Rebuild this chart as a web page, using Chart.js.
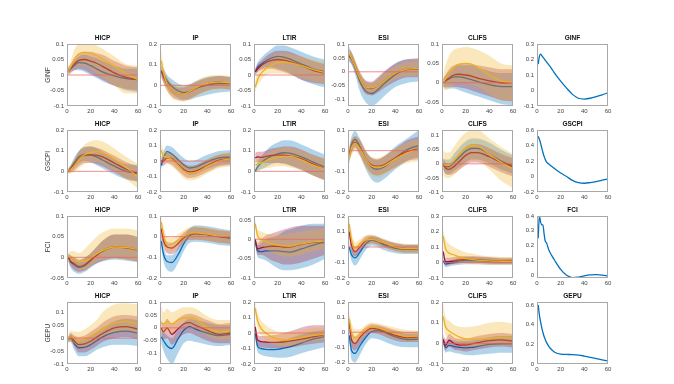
<!DOCTYPE html>
<html>
<head>
<meta charset="utf-8">
<script src="https://cdn.jsdelivr.net/npm/chart.js@4.4.0/dist/chart.umd.min.js"></script>
<style>
  html, body { margin: 0; padding: 0; background: #fff; }
  #fig { position: relative; width: 674px; height: 384px; overflow: hidden; }
  #fig canvas { position: absolute; }
</style>
</head>
<body>
<div id="fig"></div>
<script>
var horizon = [1, 3, 6, 10, 15, 20, 25, 30, 40, 50, 60];
var horizonShock = [1, 2, 3, 4, 5, 6, 7, 8, 10, 12, 15, 20, 25, 30, 35, 40, 45, 50, 55, 60];
var xTicks = [0, 20, 40, 60];

var shocks = ["GINF", "GSCPI", "FCI", "GEPU"];
var responses = ["HICP", "IP", "LTIR", "ESI", "CLIFS"];

// regimes: B = blue, R = red, Y = yellow; each is [lower, median, upper]

// ---- GINF shock
var ginfHicpB = [
  [0.005, 0.01, 0.015, 0.015, 0.01, 0.0, -0.01, -0.02, -0.035, -0.05, -0.055],
  [0.015, 0.02, 0.03, 0.04, 0.038, 0.03, 0.02, 0.01, -0.003, -0.012, -0.015],
  [0.025, 0.03, 0.045, 0.06, 0.065, 0.06, 0.055, 0.045, 0.03, 0.02, 0.02]];
var ginfHicpR = [
  [0.0, 0.005, 0.015, 0.02, 0.015, 0.005, -0.005, -0.015, -0.035, -0.045, -0.05],
  [0.012, 0.02, 0.035, 0.047, 0.05, 0.045, 0.038, 0.028, 0.007, -0.008, -0.015],
  [0.025, 0.035, 0.055, 0.07, 0.075, 0.075, 0.07, 0.065, 0.045, 0.03, 0.025]];
var ginfHicpY = [
  [0.0, 0.01, 0.025, 0.03, 0.03, 0.02, 0.005, -0.01, -0.035, -0.06, -0.06],
  [0.012, 0.025, 0.05, 0.068, 0.073, 0.07, 0.063, 0.052, 0.028, 0.005, -0.015],
  [0.025, 0.045, 0.08, 0.1, 0.105, 0.1, 0.095, 0.085, 0.06, 0.035, 0.03]];

var ginfIpB = [
  [0.04, 0.02, -0.01, -0.04, -0.06, -0.07, -0.07, -0.06, -0.045, -0.035, -0.03],
  [0.07, 0.05, 0.02, -0.005, -0.025, -0.035, -0.03, -0.015, 0.0, 0.008, 0.008],
  [0.09, 0.08, 0.05, 0.03, 0.01, 0.0, 0.005, 0.02, 0.04, 0.045, 0.04]];
var ginfIpR = [
  [0.04, 0.01, -0.025, -0.055, -0.07, -0.075, -0.065, -0.05, -0.025, -0.015, -0.02],
  [0.07, 0.04, 0.005, -0.025, -0.04, -0.04, -0.03, -0.015, 0.008, 0.015, 0.01],
  [0.1, 0.07, 0.035, 0.005, -0.01, -0.01, 0.0, 0.015, 0.035, 0.045, 0.04]];
var ginfIpY = [
  [0.06, 0.015, -0.03, -0.06, -0.075, -0.08, -0.07, -0.055, -0.03, -0.02, -0.02],
  [0.12, 0.06, 0.005, -0.025, -0.04, -0.042, -0.03, -0.012, 0.01, 0.016, 0.012],
  [0.17, 0.1, 0.04, 0.01, -0.005, -0.005, 0.005, 0.02, 0.045, 0.05, 0.045]];

var ginfLtirB = [
  [0.0, 0.01, 0.02, 0.025, 0.025, 0.02, 0.015, 0.005, -0.015, -0.03, -0.04],
  [0.01, 0.025, 0.035, 0.045, 0.055, 0.06, 0.058, 0.052, 0.035, 0.02, 0.01],
  [0.02, 0.04, 0.055, 0.07, 0.085, 0.095, 0.095, 0.09, 0.075, 0.06, 0.05]];
var ginfLtirR = [
  [0.0, 0.01, 0.015, 0.02, 0.02, 0.015, 0.01, 0.005, -0.015, -0.025, -0.03],
  [0.01, 0.02, 0.03, 0.04, 0.047, 0.05, 0.048, 0.043, 0.03, 0.015, 0.005],
  [0.02, 0.035, 0.045, 0.06, 0.072, 0.078, 0.078, 0.075, 0.06, 0.045, 0.035]];
var ginfLtirY = [
  [-0.055, -0.035, -0.015, 0.0, 0.005, 0.005, 0.005, 0.0, -0.01, -0.02, -0.03],
  [-0.04, -0.015, 0.005, 0.02, 0.032, 0.04, 0.042, 0.04, 0.03, 0.018, 0.008],
  [-0.02, 0.01, 0.03, 0.045, 0.06, 0.068, 0.07, 0.068, 0.06, 0.05, 0.04]];

var ginfEsiB = [
  [0.035, 0.025, -0.01, -0.07, -0.11, -0.122, -0.11, -0.09, -0.055, -0.04, -0.035],
  [0.055, 0.045, 0.015, -0.035, -0.07, -0.078, -0.065, -0.045, -0.01, 0.008, 0.01],
  [0.09, 0.07, 0.04, -0.005, -0.035, -0.04, -0.025, -0.005, 0.03, 0.045, 0.045]];
var ginfEsiR = [
  [0.04, 0.03, 0.0, -0.045, -0.08, -0.085, -0.075, -0.06, -0.035, -0.02, -0.02],
  [0.06, 0.05, 0.02, -0.025, -0.055, -0.06, -0.05, -0.035, -0.005, 0.01, 0.012],
  [0.08, 0.07, 0.04, 0.0, -0.03, -0.035, -0.02, 0.0, 0.03, 0.045, 0.05]];
var ginfEsiY = [
  [0.045, 0.035, 0.005, -0.045, -0.075, -0.08, -0.07, -0.055, -0.025, -0.015, -0.015],
  [0.065, 0.05, 0.02, -0.025, -0.055, -0.058, -0.05, -0.035, -0.005, 0.01, 0.012],
  [0.085, 0.07, 0.04, 0.0, -0.035, -0.04, -0.025, -0.01, 0.02, 0.035, 0.04]];

var ginfClifsB = [
  [-0.01, -0.015, -0.015, -0.015, -0.02, -0.025, -0.03, -0.035, -0.045, -0.055, -0.058],
  [0.0, 0.005, 0.01, 0.015, 0.015, 0.012, 0.008, 0.003, -0.005, -0.01, -0.01],
  [0.01, 0.02, 0.03, 0.04, 0.045, 0.045, 0.045, 0.04, 0.03, 0.025, 0.025]];
var ginfClifsR = [
  [-0.01, -0.01, -0.01, -0.01, -0.012, -0.015, -0.02, -0.025, -0.035, -0.045, -0.048],
  [0.0, 0.005, 0.012, 0.02, 0.022, 0.02, 0.017, 0.012, 0.005, 0.0, 0.0],
  [0.01, 0.02, 0.035, 0.045, 0.05, 0.05, 0.048, 0.045, 0.04, 0.035, 0.035]];
var ginfClifsY = [
  [-0.015, -0.02, -0.015, -0.005, 0.0, 0.0, -0.005, -0.01, -0.03, -0.045, -0.048],
  [0.0, 0.01, 0.025, 0.04, 0.048, 0.05, 0.048, 0.04, 0.02, 0.005, 0.0],
  [0.02, 0.045, 0.07, 0.085, 0.09, 0.092, 0.09, 0.085, 0.07, 0.05, 0.045]];

// ---- GSCPI shock
var gscpiHicpB = [
  [-0.01, 0.0, 0.015, 0.04, 0.05, 0.045, 0.03, 0.015, -0.015, -0.04, -0.05],
  [0.0, 0.015, 0.04, 0.07, 0.082, 0.08, 0.07, 0.055, 0.025, 0.0, -0.01],
  [0.01, 0.03, 0.065, 0.1, 0.12, 0.12, 0.11, 0.095, 0.06, 0.035, 0.03]];
var gscpiHicpR = [
  [-0.01, -0.005, 0.005, 0.025, 0.04, 0.04, 0.035, 0.025, -0.005, -0.035, -0.05],
  [0.0, 0.01, 0.03, 0.06, 0.077, 0.08, 0.078, 0.07, 0.04, 0.01, -0.012],
  [0.01, 0.025, 0.055, 0.095, 0.115, 0.12, 0.115, 0.105, 0.075, 0.045, 0.025]];
var gscpiHicpY = [
  [-0.01, -0.01, -0.005, 0.015, 0.035, 0.045, 0.045, 0.035, 0.0, -0.04, -0.085],
  [0.0, 0.008, 0.025, 0.055, 0.08, 0.092, 0.095, 0.09, 0.06, 0.02, -0.03],
  [0.02, 0.03, 0.055, 0.095, 0.13, 0.145, 0.15, 0.145, 0.11, 0.07, 0.035]];

var gscpiIpB = [
  [-0.06, -0.01, 0.02, 0.0, -0.035, -0.07, -0.09, -0.085, -0.05, -0.025, -0.02],
  [-0.03, 0.02, 0.06, 0.045, 0.01, -0.025, -0.045, -0.04, -0.005, 0.02, 0.025],
  [0.0, 0.06, 0.1, 0.09, 0.055, 0.02, 0.0, 0.005, 0.04, 0.065, 0.07]];
var gscpiIpR = [
  [-0.03, -0.03, -0.015, -0.025, -0.06, -0.095, -0.11, -0.105, -0.07, -0.035, -0.025],
  [0.0, 0.0, 0.02, 0.015, -0.02, -0.055, -0.07, -0.065, -0.03, 0.005, 0.015],
  [0.03, 0.03, 0.055, 0.05, 0.02, -0.015, -0.03, -0.025, 0.01, 0.04, 0.05]];
var gscpiIpY = [
  [0.03, -0.01, -0.015, -0.035, -0.07, -0.11, -0.125, -0.12, -0.08, -0.045, -0.035],
  [0.07, 0.03, 0.025, 0.01, -0.025, -0.065, -0.08, -0.075, -0.035, 0.0, 0.015],
  [0.13, 0.07, 0.06, 0.05, 0.02, -0.02, -0.035, -0.03, 0.01, 0.045, 0.06]];

var gscpiLtirB = [
  [-0.005, 0.0, 0.01, 0.02, 0.035, 0.04, 0.04, 0.03, 0.005, -0.02, -0.04],
  [0.0, 0.02, 0.04, 0.06, 0.075, 0.085, 0.09, 0.088, 0.07, 0.045, 0.02],
  [0.01, 0.045, 0.07, 0.1, 0.125, 0.14, 0.15, 0.15, 0.13, 0.105, 0.08]];
var gscpiLtirR = [
  [0.04, 0.045, 0.04, 0.04, 0.04, 0.04, 0.035, 0.03, 0.01, -0.02, -0.045],
  [0.065, 0.07, 0.068, 0.072, 0.077, 0.08, 0.078, 0.075, 0.06, 0.035, 0.01],
  [0.09, 0.095, 0.095, 0.1, 0.11, 0.115, 0.12, 0.12, 0.105, 0.08, 0.06]];
var gscpiLtirY = [
  [0.0, 0.005, 0.01, 0.015, 0.02, 0.025, 0.025, 0.02, 0.005, -0.02, -0.04],
  [0.03, 0.035, 0.04, 0.05, 0.06, 0.068, 0.072, 0.072, 0.055, 0.03, 0.01],
  [0.05, 0.06, 0.07, 0.085, 0.1, 0.11, 0.115, 0.115, 0.1, 0.08, 0.06]];

var gscpiEsiB = [
  [-0.06, -0.01, 0.02, -0.02, -0.09, -0.14, -0.155, -0.14, -0.09, -0.05, -0.03],
  [-0.02, 0.03, 0.055, 0.02, -0.04, -0.08, -0.09, -0.08, -0.035, 0.005, 0.025],
  [0.02, 0.07, 0.095, 0.06, 0.0, -0.035, -0.045, -0.03, 0.02, 0.06, 0.1]];
var gscpiEsiR = [
  [-0.05, -0.01, 0.01, -0.02, -0.075, -0.11, -0.12, -0.11, -0.08, -0.05, -0.04],
  [-0.02, 0.02, 0.04, 0.015, -0.04, -0.07, -0.075, -0.07, -0.035, -0.005, 0.01],
  [0.01, 0.05, 0.07, 0.05, -0.005, -0.035, -0.04, -0.03, 0.01, 0.05, 0.07]];
var gscpiEsiY = [
  [-0.07, -0.025, 0.0, -0.03, -0.085, -0.12, -0.13, -0.12, -0.085, -0.06, -0.05],
  [-0.03, 0.015, 0.035, 0.01, -0.04, -0.075, -0.08, -0.075, -0.04, -0.01, 0.005],
  [0.01, 0.05, 0.07, 0.05, 0.005, -0.03, -0.035, -0.025, 0.01, 0.04, 0.055]];

var gscpiClifsB = [
  [-0.02, -0.035, -0.035, -0.025, -0.01, 0.005, 0.015, 0.015, 0.0, -0.02, -0.035],
  [0.0, -0.01, -0.01, 0.005, 0.025, 0.045, 0.055, 0.055, 0.035, 0.01, -0.007],
  [0.02, 0.015, 0.015, 0.035, 0.06, 0.08, 0.09, 0.09, 0.075, 0.05, 0.03]];
var gscpiClifsR = [
  [-0.02, -0.035, -0.04, -0.035, -0.02, -0.005, 0.005, 0.005, -0.01, -0.03, -0.045],
  [0.0, -0.015, -0.02, -0.01, 0.01, 0.03, 0.04, 0.04, 0.025, 0.005, -0.01],
  [0.02, 0.005, 0.0, 0.015, 0.04, 0.06, 0.07, 0.07, 0.055, 0.035, 0.02]];
var gscpiClifsY = [
  [-0.04, -0.05, -0.05, -0.04, -0.02, 0.0, 0.01, 0.01, -0.02, -0.06, -0.085],
  [0.0, -0.005, -0.005, 0.01, 0.035, 0.055, 0.065, 0.063, 0.035, 0.005, -0.018],
  [0.05, 0.04, 0.04, 0.06, 0.09, 0.11, 0.12, 0.12, 0.09, 0.06, 0.035]];

// ---- FCI shock
var fciHicpB = [
  [-0.01, -0.025, -0.035, -0.04, -0.035, -0.025, -0.015, -0.01, -0.005, -0.008, -0.012],
  [0.0, -0.01, -0.018, -0.025, -0.02, -0.008, 0.005, 0.015, 0.025, 0.024, 0.018],
  [0.01, 0.005, 0.0, -0.005, 0.0, 0.01, 0.025, 0.04, 0.055, 0.055, 0.05]];
var fciHicpR = [
  [-0.008, -0.02, -0.03, -0.035, -0.032, -0.022, -0.015, -0.008, -0.002, -0.005, -0.01],
  [0.0, -0.01, -0.015, -0.022, -0.018, -0.006, 0.005, 0.015, 0.025, 0.023, 0.017],
  [0.008, 0.003, 0.0, -0.008, -0.002, 0.01, 0.025, 0.04, 0.055, 0.055, 0.048]];
var fciHicpY = [
  [-0.01, -0.01, -0.02, -0.03, -0.03, -0.02, -0.01, -0.005, -0.003, -0.005, -0.01],
  [0.0, 0.003, -0.005, -0.01, -0.01, -0.002, 0.008, 0.016, 0.025, 0.024, 0.018],
  [0.01, 0.015, 0.015, 0.01, 0.02, 0.035, 0.05, 0.06, 0.07, 0.07, 0.065]];

var fciIpB = [
  [-0.05, -0.12, -0.16, -0.17, -0.13, -0.07, -0.03, -0.025, -0.03, -0.04, -0.045],
  [-0.02, -0.085, -0.12, -0.125, -0.09, -0.035, 0.005, 0.015, 0.01, 0.0, -0.008],
  [0.01, -0.05, -0.09, -0.09, -0.055, 0.0, 0.04, 0.055, 0.05, 0.04, 0.03]];
var fciIpR = [
  [0.0, -0.05, -0.08, -0.085, -0.065, -0.03, -0.015, -0.015, -0.02, -0.03, -0.035],
  [0.04, -0.02, -0.05, -0.055, -0.035, -0.005, 0.012, 0.015, 0.01, 0.0, -0.005],
  [0.07, 0.01, -0.025, -0.03, -0.01, 0.02, 0.04, 0.045, 0.04, 0.03, 0.025]];
var fciIpY = [
  [0.03, -0.03, -0.07, -0.07, -0.05, -0.03, -0.015, -0.015, -0.02, -0.03, -0.035],
  [0.07, 0.01, -0.04, -0.035, -0.02, 0.0, 0.015, 0.018, 0.012, 0.003, 0.0],
  [0.1, 0.05, 0.0, -0.005, 0.01, 0.03, 0.045, 0.05, 0.045, 0.035, 0.03]];

var fciLtirB = [
  [-0.01, -0.045, -0.05, -0.055, -0.065, -0.075, -0.08, -0.08, -0.075, -0.065, -0.05],
  [-0.005, -0.03, -0.032, -0.03, -0.03, -0.03, -0.032, -0.033, -0.025, -0.015, -0.007],
  [0.0, -0.015, -0.01, 0.0, 0.005, 0.01, 0.02, 0.025, 0.035, 0.04, 0.04]];
var fciLtirR = [
  [-0.005, -0.04, -0.04, -0.045, -0.055, -0.06, -0.065, -0.065, -0.06, -0.05, -0.04],
  [0.0, -0.025, -0.022, -0.02, -0.018, -0.018, -0.02, -0.02, -0.013, -0.008, -0.005],
  [0.005, -0.01, 0.0, 0.01, 0.015, 0.02, 0.025, 0.03, 0.035, 0.035, 0.035]];
var fciLtirY = [
  [0.03, -0.01, -0.015, -0.025, -0.035, -0.04, -0.045, -0.045, -0.04, -0.03, -0.025],
  [0.04, 0.01, 0.0, -0.005, -0.012, -0.015, -0.017, -0.018, -0.012, -0.007, -0.005],
  [0.055, 0.025, 0.02, 0.015, 0.012, 0.01, 0.012, 0.015, 0.02, 0.025, 0.03]];

var fciEsiB = [
  [-0.03, -0.09, -0.12, -0.08, -0.02, 0.01, 0.0, -0.02, -0.04, -0.045, -0.045],
  [0.0, -0.05, -0.07, -0.035, 0.02, 0.045, 0.035, 0.015, -0.008, -0.015, -0.015],
  [0.03, -0.01, -0.03, 0.0, 0.05, 0.07, 0.065, 0.045, 0.025, 0.015, 0.015]];
var fciEsiR = [
  [0.05, -0.03, -0.06, -0.03, 0.01, 0.025, 0.015, 0.0, -0.025, -0.035, -0.035],
  [0.1, 0.01, -0.03, 0.0, 0.04, 0.05, 0.04, 0.025, 0.0, -0.01, -0.01],
  [0.15, 0.05, 0.0, 0.03, 0.07, 0.075, 0.065, 0.05, 0.025, 0.015, 0.015]];
var fciEsiY = [
  [0.1, 0.01, -0.04, -0.01, 0.015, 0.025, 0.015, 0.0, -0.03, -0.04, -0.04],
  [0.15, 0.05, -0.01, 0.02, 0.045, 0.05, 0.04, 0.028, 0.0, -0.01, -0.01],
  [0.2, 0.1, 0.03, 0.05, 0.075, 0.08, 0.07, 0.055, 0.03, 0.02, 0.02]];

var fciClifsB = [
  [-0.01, -0.03, -0.025, -0.02, -0.015, -0.012, -0.012, -0.012, -0.015, -0.015, -0.015],
  [0.01, -0.01, -0.005, 0.0, 0.01, 0.013, 0.013, 0.012, 0.008, 0.005, 0.005],
  [0.03, 0.01, 0.015, 0.02, 0.03, 0.035, 0.035, 0.035, 0.03, 0.025, 0.025]];
var fciClifsR = [
  [0.03, -0.02, -0.015, -0.01, -0.005, 0.0, 0.0, -0.002, -0.008, -0.01, -0.01],
  [0.07, 0.005, 0.005, 0.01, 0.017, 0.02, 0.02, 0.018, 0.013, 0.01, 0.01],
  [0.1, 0.03, 0.03, 0.035, 0.04, 0.042, 0.042, 0.04, 0.035, 0.03, 0.03]];
var fciClifsY = [
  [0.12, 0.04, 0.02, 0.01, 0.0, -0.005, -0.01, -0.012, -0.015, -0.015, -0.015],
  [0.17, 0.09, 0.06, 0.05, 0.035, 0.025, 0.02, 0.015, 0.01, 0.008, 0.007],
  [0.22, 0.15, 0.12, 0.1, 0.08, 0.065, 0.06, 0.05, 0.04, 0.035, 0.035]];

// ---- GEPU shock
var gepuHicpB = [
  [-0.015, -0.015, -0.045, -0.07, -0.07, -0.06, -0.045, -0.035, -0.025, -0.025, -0.03],
  [-0.005, 0.0, -0.02, -0.037, -0.035, -0.025, -0.01, 0.005, 0.022, 0.027, 0.02],
  [0.005, 0.015, 0.005, -0.005, 0.0, 0.01, 0.025, 0.04, 0.065, 0.075, 0.07]];
var gepuHicpR = [
  [-0.015, -0.01, -0.03, -0.055, -0.055, -0.045, -0.03, -0.015, 0.0, 0.005, -0.005],
  [-0.005, 0.005, -0.01, -0.025, -0.022, -0.012, 0.003, 0.018, 0.04, 0.045, 0.035],
  [0.005, 0.02, 0.01, 0.005, 0.01, 0.025, 0.04, 0.06, 0.085, 0.09, 0.085]];
var gepuHicpY = [
  [-0.02, -0.015, -0.02, -0.035, -0.035, -0.025, -0.01, 0.005, 0.02, 0.025, 0.015],
  [-0.005, 0.005, 0.0, -0.008, -0.005, 0.005, 0.02, 0.035, 0.058, 0.065, 0.055],
  [0.01, 0.03, 0.025, 0.025, 0.035, 0.05, 0.07, 0.1, 0.13, 0.135, 0.13]];

var gepuIpB = [
  [-0.06, -0.09, -0.12, -0.14, -0.1, -0.06, -0.05, -0.055, -0.065, -0.07, -0.065],
  [-0.035, -0.05, -0.07, -0.08, -0.045, -0.01, 0.005, -0.005, -0.02, -0.03, -0.025],
  [-0.01, -0.015, -0.03, -0.04, -0.01, 0.02, 0.035, 0.03, 0.02, 0.01, 0.01]];
var gepuIpR = [
  [-0.03, -0.045, -0.04, -0.065, -0.045, -0.025, -0.02, -0.03, -0.05, -0.06, -0.06],
  [0.0, -0.015, 0.0, -0.025, -0.005, 0.015, 0.02, 0.01, -0.01, -0.025, -0.02],
  [0.03, 0.015, 0.035, 0.015, 0.035, 0.05, 0.055, 0.05, 0.03, 0.015, 0.02]];
var gepuIpY = [
  [-0.02, -0.02, -0.01, -0.02, 0.0, 0.005, 0.01, 0.0, -0.03, -0.045, -0.045],
  [0.02, 0.015, 0.025, 0.015, 0.03, 0.038, 0.04, 0.035, 0.0, -0.015, -0.012],
  [0.085, 0.06, 0.075, 0.06, 0.07, 0.08, 0.08, 0.075, 0.045, 0.03, 0.03]];

var gepuLtirB = [
  [-0.03, -0.12, -0.14, -0.15, -0.155, -0.16, -0.16, -0.155, -0.13, -0.11, -0.09],
  [0.0, -0.085, -0.1, -0.105, -0.107, -0.105, -0.098, -0.09, -0.065, -0.04, -0.022],
  [0.03, -0.05, -0.06, -0.06, -0.06, -0.055, -0.045, -0.035, -0.01, 0.01, 0.02]];
var gepuLtirR = [
  [0.0, -0.08, -0.09, -0.095, -0.1, -0.1, -0.1, -0.095, -0.08, -0.07, -0.06],
  [0.04, -0.045, -0.055, -0.058, -0.06, -0.06, -0.058, -0.053, -0.04, -0.025, -0.01],
  [0.08, -0.01, -0.02, -0.02, -0.015, -0.01, 0.0, 0.01, 0.035, 0.05, 0.05]];
var gepuLtirY = [
  [0.12, 0.03, -0.015, -0.045, -0.07, -0.08, -0.085, -0.085, -0.07, -0.055, -0.045],
  [0.16, 0.08, 0.03, 0.0, -0.025, -0.04, -0.045, -0.043, -0.03, -0.015, -0.008],
  [0.2, 0.13, 0.08, 0.05, 0.025, 0.01, 0.005, 0.005, 0.015, 0.03, 0.035]];

var gepuEsiB = [
  [-0.06, -0.18, -0.2, -0.15, -0.08, -0.04, -0.045, -0.06, -0.09, -0.1, -0.1],
  [-0.02, -0.12, -0.14, -0.09, -0.035, 0.005, 0.01, 0.0, -0.03, -0.048, -0.045],
  [0.02, -0.06, -0.08, -0.04, 0.0, 0.04, 0.04, 0.03, 0.005, -0.01, -0.01]];
var gepuEsiR = [
  [0.03, -0.1, -0.12, -0.08, -0.03, -0.005, -0.01, -0.025, -0.055, -0.065, -0.065],
  [0.07, -0.05, -0.075, -0.035, 0.005, 0.025, 0.02, 0.008, -0.02, -0.035, -0.03],
  [0.11, 0.0, -0.03, 0.0, 0.035, 0.055, 0.05, 0.04, 0.015, 0.0, 0.0]];
var gepuEsiY = [
  [0.05, -0.05, -0.08, -0.055, -0.01, 0.005, 0.0, -0.015, -0.045, -0.06, -0.06],
  [0.09, 0.0, -0.035, -0.015, 0.02, 0.035, 0.03, 0.018, -0.01, -0.028, -0.025],
  [0.14, 0.06, 0.02, 0.02, 0.05, 0.065, 0.06, 0.05, 0.03, 0.015, 0.01]];

var gepuClifsB = [
  [-0.01, -0.045, -0.04, -0.045, -0.05, -0.057, -0.058, -0.055, -0.05, -0.045, -0.045],
  [0.01, -0.02, -0.01, -0.015, -0.02, -0.022, -0.02, -0.015, -0.005, -0.002, -0.003],
  [0.03, 0.005, 0.02, 0.015, 0.01, 0.01, 0.012, 0.018, 0.03, 0.035, 0.035]];
var gepuClifsR = [
  [-0.005, -0.035, -0.015, -0.03, -0.035, -0.04, -0.035, -0.03, -0.02, -0.015, -0.02],
  [0.02, -0.01, 0.015, 0.0, -0.008, -0.008, -0.003, 0.003, 0.013, 0.017, 0.01],
  [0.045, 0.02, 0.045, 0.03, 0.022, 0.022, 0.028, 0.035, 0.045, 0.05, 0.045]];
var gepuClifsY = [
  [0.1, 0.04, 0.025, 0.005, -0.01, -0.015, -0.015, -0.015, -0.01, -0.01, -0.012],
  [0.13, 0.08, 0.06, 0.045, 0.03, 0.022, 0.02, 0.02, 0.025, 0.028, 0.025],
  [0.2, 0.13, 0.11, 0.09, 0.08, 0.078, 0.08, 0.085, 0.1, 0.105, 0.095]];

// shock series themselves (last column)
var ginfPath  = [0.17, 0.22, 0.235, 0.225, 0.215, 0.205, 0.195, 0.185, 0.165, 0.145, 0.11, 0.06, 0.015, -0.025, -0.05, -0.055, -0.05, -0.04, -0.028, -0.015];
var gscpiPath = [0.52, 0.48, 0.43, 0.37, 0.31, 0.26, 0.22, 0.19, 0.16, 0.135, 0.1, 0.045, 0.0, -0.05, -0.08, -0.087, -0.078, -0.065, -0.048, -0.03];
var fciPath   = [0.25, 0.4, 0.36, 0.34, 0.34, 0.28, 0.23, 0.22, 0.17, 0.14, 0.1, 0.04, 0.0, -0.015, -0.012, -0.003, 0.003, 0.005, 0.002, -0.005];
var gepuPath  = [0.6, 0.5, 0.43, 0.37, 0.32, 0.28, 0.25, 0.22, 0.18, 0.15, 0.12, 0.1, 0.097, 0.095, 0.09, 0.08, 0.068, 0.055, 0.043, 0.03];

// ---------------------------------------------------------------
var fam = "'Liberation Sans', Arial, Helvetica, sans-serif";
var lineCol = ["#0072BD", "#A2142F", "#EDB120"];
var bandCol = ["rgba(0,114,189,0.3)", "rgba(162,20,47,0.3)", "rgba(237,177,32,0.3)"];

var colLeft = [67, 160, 254, 348, 442, 537];
var rowTop = [44, 130, 216, 302];
var plotW = 71, plotH = 62;

// row, col, regimes, y min, y max, y ticks
var panels = [
  [0, 0, [ginfHicpB, ginfHicpR, ginfHicpY], -0.1, 0.1, [-0.1, -0.05, 0, 0.05, 0.1]],
  [0, 1, [ginfIpB, ginfIpR, ginfIpY], -0.1, 0.2, [-0.1, 0, 0.1, 0.2]],
  [0, 2, [ginfLtirB, ginfLtirR, ginfLtirY], -0.1, 0.1, [-0.1, -0.05, 0, 0.05, 0.1]],
  [0, 3, [ginfEsiB, ginfEsiR, ginfEsiY], -0.123, 0.1, [-0.1, -0.05, 0, 0.05, 0.1]],
  [0, 4, [ginfClifsB, ginfClifsR, ginfClifsY], -0.06, 0.1, [-0.05, 0, 0.05, 0.1]],
  [1, 0, [gscpiHicpB, gscpiHicpR, gscpiHicpY], -0.1, 0.2, [-0.1, 0, 0.1, 0.2]],
  [1, 1, [gscpiIpB, gscpiIpR, gscpiIpY], -0.2, 0.2, [-0.2, -0.1, 0, 0.1, 0.2]],
  [1, 2, [gscpiLtirB, gscpiLtirR, gscpiLtirY], -0.1, 0.2, [-0.1, 0, 0.1, 0.2]],
  [1, 3, [gscpiEsiB, gscpiEsiR, gscpiEsiY], -0.2, 0.1, [-0.2, -0.1, 0, 0.1]],
  [1, 4, [gscpiClifsB, gscpiClifsR, gscpiClifsY], -0.1, 0.12, [-0.1, -0.05, 0, 0.05, 0.1]],
  [2, 0, [fciHicpB, fciHicpR, fciHicpY], -0.05, 0.1, [-0.05, 0, 0.05, 0.1]],
  [2, 1, [fciIpB, fciIpR, fciIpY], -0.2, 0.1, [-0.2, -0.1, 0, 0.1]],
  [2, 2, [fciLtirB, fciLtirR, fciLtirY], -0.1, 0.06, [-0.1, -0.05, 0, 0.05]],
  [2, 3, [fciEsiB, fciEsiR, fciEsiY], -0.2, 0.2, [-0.2, -0.1, 0, 0.1, 0.2]],
  [2, 4, [fciClifsB, fciClifsR, fciClifsY], -0.1, 0.3, [-0.1, 0, 0.1, 0.2, 0.3]],
  [3, 0, [gepuHicpB, gepuHicpR, gepuHicpY], -0.1, 0.14, [-0.1, -0.05, 0, 0.05, 0.1]],
  [3, 1, [gepuIpB, gepuIpR, gepuIpY], -0.14, 0.1, [-0.1, -0.05, 0, 0.05, 0.1]],
  [3, 2, [gepuLtirB, gepuLtirR, gepuLtirY], -0.2, 0.2, [-0.2, -0.1, 0, 0.1, 0.2]],
  [3, 3, [gepuEsiB, gepuEsiR, gepuEsiY], -0.21, 0.2, [-0.2, -0.1, 0, 0.1, 0.2]],
  [3, 4, [gepuClifsB, gepuClifsR, gepuClifsY], -0.1, 0.2, [-0.1, 0, 0.1, 0.2]]
];

var shockPanels = [
  [0, ginfPath, -0.1, 0.3, [-0.1, 0, 0.1, 0.2, 0.3]],
  [1, gscpiPath, -0.2, 0.6, [-0.2, 0, 0.2, 0.4, 0.6]],
  [2, fciPath, -0.018, 0.4, [0, 0.1, 0.2, 0.3, 0.4]],
  [3, gepuPath, 0, 0.63, [0, 0.2, 0.4, 0.6]]
];

var boxPlugin = {
  id: "box",
  afterDraw: function (chart) {
    var a = chart.chartArea, c = chart.ctx;
    c.save();
    c.strokeStyle = "#a8a8a8";
    c.lineWidth = 1;
    c.strokeRect(Math.round(a.left) + 0.5, Math.round(a.top) + 0.5,
      Math.round(a.right - a.left) - 1, Math.round(a.bottom - a.top) - 1);
    c.restore();
  }
};

function pts(xs, ys) {
  return xs.map(function (x, i) { return { x: x, y: ys[i] }; });
}

function fmt(v) { return String(Math.round(v * 1000) / 1000); }

function makeChart(row, col, title, datasets, yMin, yMax, yTicks) {
  var yw = col === 0 ? 30 : 26;
  var cv = document.createElement("canvas");
  cv.width = yw + plotW + 6;
  cv.height = 12 + plotH + 12;
  cv.style.left = (colLeft[col] - yw) + "px";
  cv.style.top = (rowTop[row] - 12) + "px";
  cv.style.width = cv.width + "px";
  cv.style.height = cv.height + "px";
  document.getElementById("fig").appendChild(cv);

  datasets.forEach(function (d, i) { d.order = 100 - i; });

  new Chart(cv, {
    type: "line",
    data: { datasets: datasets },
    options: {
      animation: false,
      responsive: false,
      devicePixelRatio: 1,
      events: [],
      layout: { padding: { left: 0, right: 6, top: 0, bottom: 0 } },
      elements: { point: { radius: 0 } },
      plugins: {
        legend: { display: false },
        tooltip: { enabled: false },
        title: {
          display: true, text: title, color: "#111", fullSize: false,
          font: { family: fam, size: 6.5, weight: "bold", lineHeight: 1 },
          padding: { top: 3, bottom: 2.5 }
        }
      },
      scales: {
        x: {
          type: "linear", min: 0, max: 60,
          grid: { display: false, drawTicks: false }, border: { display: false },
          ticks: { color: "#444", font: { family: fam, size: 6 }, padding: 2, maxRotation: 0 },
          afterBuildTicks: function (s) { s.ticks = xTicks.map(function (v) { return { value: v }; }); },
          afterFit: function (s) { s.height = 12; }
        },
        y: {
          min: yMin, max: yMax,
          grid: { display: false, drawTicks: false }, border: { display: false },
          ticks: { color: "#444", font: { family: fam, size: 6 }, padding: 3, callback: fmt },
          afterBuildTicks: function (s) { s.ticks = yTicks.map(function (v) { return { value: v }; }); },
          afterFit: function (s) { s.width = yw; },
          title: {
            display: col === 0, text: shocks[row], color: "#333",
            font: { family: fam, size: 6.5, lineHeight: 1 },
            padding: { top: 8, bottom: 0 }
          }
        }
      }
    },
    plugins: [boxPlugin]
  });
}

// impulse response panels
panels.forEach(function (p) {
  var ds = [];
  p[2].forEach(function (reg, k) {
    var base = ds.length;
    ds.push({ data: pts(horizon, reg[0]), borderColor: "transparent", borderWidth: 0,
      backgroundColor: "transparent", fill: false, cubicInterpolationMode: "monotone" });
    ds.push({ data: pts(horizon, reg[2]), borderColor: "transparent", borderWidth: 0,
      backgroundColor: bandCol[k], fill: { target: base }, cubicInterpolationMode: "monotone" });
    ds.push({ data: pts(horizon, reg[1]), borderColor: lineCol[k], borderWidth: 1.3,
      fill: false, cubicInterpolationMode: "monotone" });
  });
  ds.push({ data: pts(xTicks, [0, 0, 0, 0]), borderColor: "rgba(232,96,96,0.8)", borderWidth: 0.9, fill: false });
  makeChart(p[0], p[1], responses[p[1]], ds, p[3], p[4], p[5]);
});

// shock paths
shockPanels.forEach(function (p) {
  var ds = [{ data: pts(horizonShock, p[1]), borderColor: lineCol[0], borderWidth: 1.3,
    fill: false, cubicInterpolationMode: "monotone" }];
  makeChart(p[0], 5, shocks[p[0]], ds, p[2], p[3], p[4]);
});
</script>
</body>
</html>
